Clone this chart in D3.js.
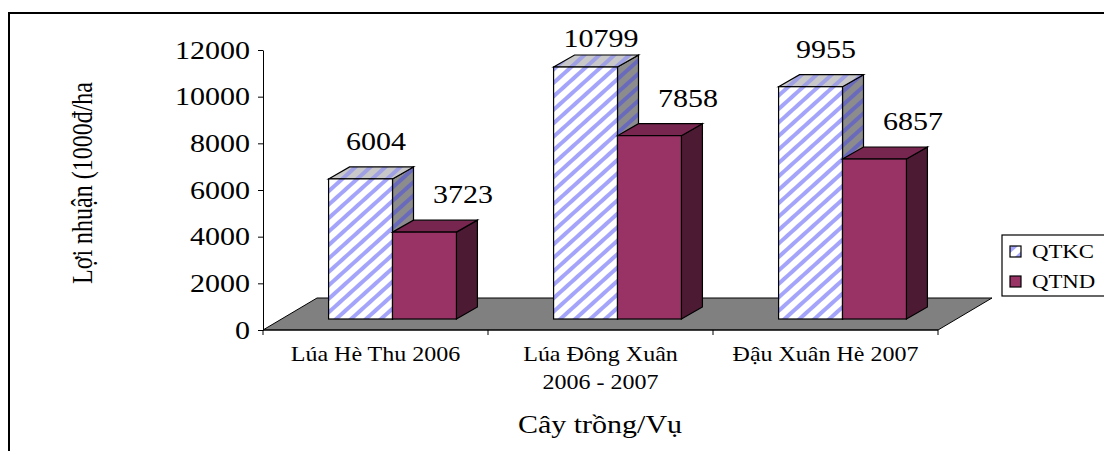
<!DOCTYPE html>
<html>
<head>
<meta charset="utf-8">
<script src="https://cdn.jsdelivr.net/npm/d3@7"></script>
<style>
  body { margin: 0; background: #fff; }
  svg { display: block; }
  text { font-family: "Liberation Serif", "Times New Roman", serif; fill: #000; }
</style>
</head>
<body>
<svg id="chart" width="1104" height="451"></svg>
<script>
// ---- data ----
const categories = ["Lúa Hè Thu 2006", "Lúa Đông Xuân\n2006 - 2007", "Đậu Xuân Hè 2007"];
const series = ["QTKC", "QTND"];
const qtkcValues = [6004, 10799, 9955];
const qtndValues = [3723, 7858, 6857];
const yTicks = [0, 2000, 4000, 6000, 8000, 10000, 12000];
const yTitle = "Lợi nhuận (1000đ/ha";
const xTitle = "Cây trồng/Vụ";

const valuesBySeries = { QTKC: qtkcValues, QTND: qtndValues };

// ---- layout ----
const svg = d3.select("#chart");
const stretch = 1.2;                 // horizontal text widening
const floorDepth = { dx: 54, dy: 32 };
const barInset = { dx: 17, dy: 11 };
const barDepth = { dx: 21, dy: 12 };

const x0 = d3.scaleBand().domain(categories).range([263, 938]);
const x1 = d3.scaleBand().domain(series).range([0, x0.bandwidth()]).paddingOuter(0.76);
const y = d3.scaleLinear().domain([0, 12000]).range([330, 50]);

// ---- patterns ----
const defs = svg.append("defs");
function stripes(id, bg, fg) {
  const p = defs.append("pattern").attr("id", id)
    .attr("patternUnits", "userSpaceOnUse")
    .attr("width", 10).attr("height", 10)
    .attr("patternTransform", "rotate(48)");
  p.append("rect").attr("width", 10).attr("height", 10).attr("fill", bg);
  p.append("rect").attr("width", 4).attr("height", 10).attr("fill", fg);
}
stripes("kcFront", "#ffffff", "#a4a4fa");
stripes("kcTop", "#c8c8c8", "#a0a0e4");
stripes("kcSide", "#8c8c8c", "#6a6abc");

const style = {
  QTKC: { front: "url(#kcFront)", top: "url(#kcTop)", side: "url(#kcSide)" },
  QTND: { front: "#993366", top: "#77264f", side: "#4c1a33" }
};

function sText(g, x, yPos, str, size, anchor) {
  return g.append("text")
    .attr("transform", `translate(${x},${yPos}) scale(${stretch},1)`)
    .attr("text-anchor", anchor || "middle")
    .style("font-size", size + "px")
    .text(str);
}

// ---- frame ----
svg.append("rect").attr("x", 9).attr("y", 13).attr("width", 1200).attr("height", 500)
  .attr("fill", "none").attr("stroke", "#000").attr("stroke-width", 2);

// ---- floor ----
const [fx0, fx1] = x0.range();
svg.append("polygon")
  .attr("points", [
    [fx0, y(0)], [fx0 + floorDepth.dx, y(0) - floorDepth.dy],
    [fx1 + floorDepth.dx, y(0) - floorDepth.dy], [fx1, y(0)]
  ].map(p => p.join(",")).join(" "))
  .attr("fill", "#808080").attr("stroke", "#000").attr("stroke-width", 1);

// ---- axes ----
const yAxis = svg.append("g").attr("transform", `translate(${fx0},0)`)
  .call(d3.axisLeft(y).tickValues(yTicks).tickSize(5).tickSizeOuter(0).tickFormat(d3.format("d")));
yAxis.select(".domain").attr("stroke", "#000");
yAxis.selectAll(".tick line").attr("stroke", "#000");
yAxis.selectAll(".tick text")
  .attr("x", 0).attr("dy", null)
  .attr("transform", `translate(-13,8) scale(${stretch},1)`)
  .style("font-size", "25px")
  .style("font-family", '"Liberation Serif", "Times New Roman", serif')
  .attr("fill", "#000");

const xAxis = svg.append("g");
xAxis.append("line").attr("x1", fx0).attr("x2", fx1).attr("y1", y(0)).attr("y2", y(0))
  .attr("stroke", "#000");
const boundaries = categories.map(c => x0(c)).concat([fx1]);
xAxis.selectAll("line.tk").data(boundaries).join("line").attr("class", "tk")
  .attr("x1", d => d).attr("x2", d => d)
  .attr("y1", y(0)).attr("y2", y(0) + 5).attr("stroke", "#000");

// category labels
categories.forEach(c => {
  const lines = c.split("\n");
  const cx = x0(c) + x0.bandwidth() / 2;
  lines.forEach((ln, i) => sText(svg, cx, 361 + i * 28, ln, 20));
});

// ---- bars ----
const barsG = svg.append("g");
categories.forEach((c, ci) => {
  series.forEach(s => {
    const v = valuesBySeries[s][ci];
    const xl = x0(c) + x1(s) + barInset.dx;
    const xr = xl + x1.bandwidth();
    const yb = y(0) - barInset.dy;
    const yt = y(v) - barInset.dy;
    const st = style[s];
    const poly = pts => pts.map(p => p.join(",")).join(" ");
    barsG.append("polygon")
      .attr("points", poly([[xr, yt], [xr + barDepth.dx, yt - barDepth.dy], [xr + barDepth.dx, yb - barDepth.dy], [xr, yb]]))
      .attr("fill", st.side).attr("stroke", "#000").attr("stroke-width", 1.2);
    barsG.append("polygon")
      .attr("points", poly([[xl, yt], [xl + barDepth.dx, yt - barDepth.dy], [xr + barDepth.dx, yt - barDepth.dy], [xr, yt]]))
      .attr("fill", st.top).attr("stroke", "#000").attr("stroke-width", 1.2);
    barsG.append("rect")
      .attr("x", xl).attr("y", yt).attr("width", xr - xl).attr("height", yb - yt)
      .attr("fill", st.front).attr("stroke", "#000").attr("stroke-width", 1.2);
  });
});

// ---- value labels ----
const labelShift = { QTKC: 5, QTND: 28 };
categories.forEach((c, ci) => {
  series.forEach(s => {
    const v = valuesBySeries[s][ci];
    const cx = x0(c) + x1(s) + barInset.dx + x1.bandwidth() / 2 + barDepth.dx / 2 + labelShift[s];
    const by = Math.max(y(v) - barInset.dy - barDepth.dy - 17, 47);
    sText(svg, cx, by, String(v), 25);
  });
});

// ---- titles ----
svg.append("text")
  .attr("transform", `translate(92,183) scale(${stretch},1) rotate(-90)`)
  .attr("text-anchor", "middle")
  .style("font-size", "24px")
  .text(yTitle);
sText(svg, 600, 433, xTitle, 25);

// ---- legend ----
const lg = svg.append("g");
lg.append("rect").attr("x", 1002).attr("y", 235).attr("width", 120).attr("height", 61)
  .attr("fill", "#fff").attr("stroke", "#000").attr("stroke-width", 1.2);
series.forEach((s, i) => {
  const yy = 246 + i * 30;
  lg.append("rect").attr("x", 1010).attr("y", yy).attr("width", 11).attr("height", 11)
    .attr("fill", style[s].front).attr("stroke", "#000").attr("stroke-width", 1.2);
  sText(lg, 1032, yy + 12, s, 19, "start");
});
</script>
</body>
</html>
